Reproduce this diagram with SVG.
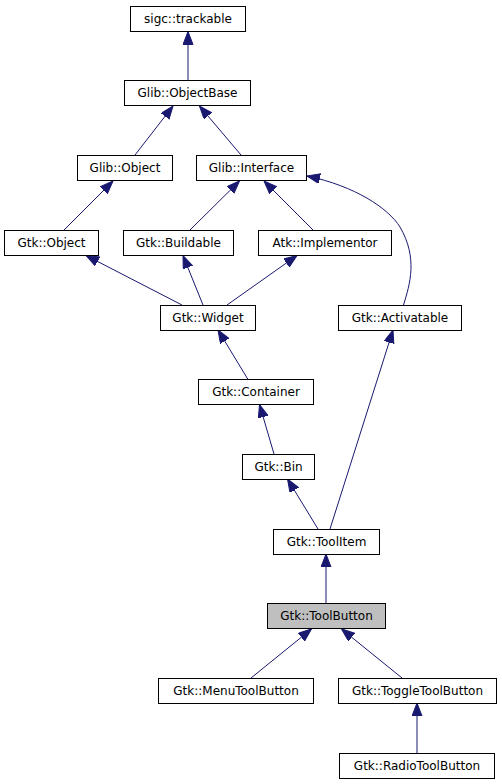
<svg xmlns="http://www.w3.org/2000/svg" width="502" height="784" viewBox="0 0 502 784">
<style>
.n rect{fill:#fff;stroke:#000;stroke-width:1}
.n.cur rect{fill:#bfbfbf}
.n text{font-family:"DejaVu Sans","Liberation Sans",sans-serif;font-size:12px;fill:#000;text-anchor:middle}
.e path{fill:none;stroke:#191970;stroke-width:1;marker-end:url(#ah)}
</style>
<defs>
<marker id="ah" markerUnits="userSpaceOnUse" markerWidth="14" markerHeight="11" refX="13" refY="5" orient="auto">
<path d="M0,0 L13,5 L0,10 z" fill="#191970" stroke="#191970" stroke-width="1"/>
</marker>
</defs>
<rect width="502" height="784" fill="#fff"/>
<g id="edges" class="e">
<path d="M188,80.5 L188,31.5"/>
<path d="M135,155 L173,106"/>
<path d="M241,155 L199.5,106"/>
<path d="M64,230 L113,181"/>
<path d="M190,230 L239.5,181"/>
<path d="M313,230 L264,181"/>
<path d="M403.5,305 C410,284 418,258 400,227 C388,208 355,186 307,176"/>
<path d="M182,305 L86,255.5"/>
<path d="M203,305 L183,255.5"/>
<path d="M227,305 L297,255.5"/>
<path d="M248,379.5 L218,330"/>
<path d="M330,529 L393,330"/>
<path d="M274,454 L259.5,404.5"/>
<path d="M318,529 L287.5,479"/>
<path d="M326,603.5 L326,554"/>
<path d="M251,678 L311.5,629"/>
<path d="M402,678 L341.5,629"/>
<path d="M417,753 L417,703"/>
</g>
<g id="sigc_trackable" class="n"><rect x="130.5" y="6.5" width="115" height="25"/><text x="188" y="22.5">sigc::trackable</text></g>
<g id="Glib_ObjectBase" class="n"><rect x="124.5" y="80.5" width="126" height="25"/><text x="187.5" y="96.5">Glib::ObjectBase</text></g>
<g id="Glib_Object" class="n"><rect x="77.5" y="155.5" width="95" height="25"/><text x="125" y="171.5">Glib::Object</text></g>
<g id="Glib_Interface" class="n"><rect x="196.5" y="155.5" width="110" height="25"/><text x="251.5" y="171.5">Glib::Interface</text></g>
<g id="Gtk_Object" class="n"><rect x="4.5" y="230.5" width="94" height="25"/><text x="51.5" y="246.5">Gtk::Object</text></g>
<g id="Gtk_Buildable" class="n"><rect x="123.5" y="230.5" width="110" height="25"/><text x="178.5" y="246.5">Gtk::Buildable</text></g>
<g id="Atk_Implementor" class="n"><rect x="258.5" y="230.5" width="133" height="25"/><text x="325" y="246.5">Atk::Implementor</text></g>
<g id="Gtk_Widget" class="n"><rect x="160.5" y="305.5" width="95" height="25"/><text x="208" y="321.5">Gtk::Widget</text></g>
<g id="Gtk_Activatable" class="n"><rect x="338.5" y="305.5" width="123" height="25"/><text x="400" y="321.5">Gtk::Activatable</text></g>
<g id="Gtk_Container" class="n"><rect x="198.5" y="379.5" width="115" height="25"/><text x="256" y="395.5">Gtk::Container</text></g>
<g id="Gtk_Bin" class="n"><rect x="242.5" y="454.5" width="72" height="25"/><text x="278.5" y="470.5">Gtk::Bin</text></g>
<g id="Gtk_ToolItem" class="n"><rect x="273.5" y="529.5" width="106" height="25"/><text x="326.5" y="545.5">Gtk::ToolItem</text></g>
<g id="Gtk_ToolButton" class="n cur"><rect x="267.5" y="603.5" width="118" height="25"/><text x="326.5" y="619.5">Gtk::ToolButton</text></g>
<g id="Gtk_MenuToolButton" class="n"><rect x="158.5" y="678.5" width="155" height="25"/><text x="236" y="694.5">Gtk::MenuToolButton</text></g>
<g id="Gtk_ToggleToolButton" class="n"><rect x="338.5" y="678.5" width="158" height="25"/><text x="417.5" y="694.5">Gtk::ToggleToolButton</text></g>
<g id="Gtk_RadioToolButton" class="n"><rect x="339.5" y="753.5" width="155" height="25"/><text x="417" y="769.5">Gtk::RadioToolButton</text></g>
</svg>
